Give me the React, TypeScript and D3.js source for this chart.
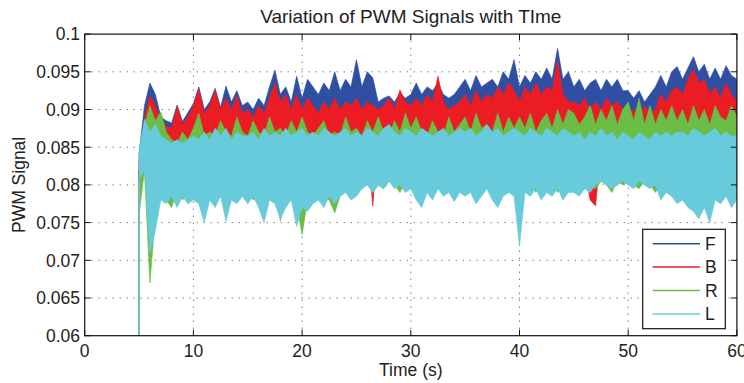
import React from "react";
import * as d3 from "d3";

// ---------- data (values in thousandths: 90 => 0.090) ----------
const UNIT = 1e-3;
const T_START = 5;
const T_STEP = 0.5;
const START_VALUE = 60;

const seriesNames = ["F", "B", "R", "L"];
const seriesColors = ["#2F4FA2", "#EC1C24", "#6CBD45", "#67CBDB"];

const xTicks = [0, 10, 20, 30, 40, 50, 60];
const yTicks = [0.06, 0.065, 0.07, 0.075, 0.08, 0.085, 0.09, 0.095, 0.1];
const xTickLabels = ["0", "10", "20", "30", "40", "50", "60"];
const yTickLabels = ["0.06", "0.065", "0.07", "0.075", "0.08", "0.085", "0.09", "0.095", "0.1"];

const fHi = [
  84, 90.5, 93.5, 92, 89, 88.5, 88.2, 90.6, 88.4, 89.6,
  90.8, 93, 90, 91, 92.8, 90.3, 93.1, 91, 92.5, 90.5,
  91, 90, 91.5, 90.5, 93, 95.2, 92, 93, 91, 94.4,
  91.5, 94, 93, 92, 93.5, 92.5, 95, 92.5, 94, 93,
  96.6, 93, 95, 94.2, 91, 91.5, 91.8, 91, 92.2, 91.5,
  92, 93.5, 92, 93, 92.5, 93.5, 92, 91.5, 92, 93,
  94, 92.5, 94.5, 93, 93.5, 94, 93, 95, 94, 96.6,
  93, 94.5, 93.5, 95, 94, 95.5, 94, 98.1, 94, 95,
  93, 94, 92.5, 93.5, 94, 92.5, 94, 93, 94, 92.5,
  92.5, 91.5, 92.5, 91, 92, 93, 94.5, 93, 95, 95.7,
  94, 95.5, 97, 95, 96, 94, 95.5, 94, 95.8, 94.5,
  94,
];
const fLo = [
  82, 84, 88, 86, 85, 85, 85, 84.5, 83.4, 84.5,
  85, 86, 86, 85.5, 86, 86.5, 86, 86, 86.5, 86,
  87, 86.5, 87.5, 86, 87, 88, 86.5, 87, 87.5, 86,
  86.5, 87, 88, 86.5, 87.5, 87, 86, 87.5, 88, 86.5,
  87, 88, 86.5, 87, 86, 87.5, 86.5, 87, 86, 87.5,
  87, 86, 87.5, 86.5, 88, 87, 86.5, 87.5, 86, 87,
  87.5, 88, 86.5, 87.5, 88.5, 87, 88, 87.5, 86.5, 88,
  87, 88.5, 87.5, 88, 86.5, 88, 87.5, 88.5, 87, 88,
  87.5, 86.5, 88, 87, 88.5, 87, 88, 86.5, 87.5, 88,
  87, 86.5, 87.5, 86, 87, 88, 87, 88.5, 87.5, 88,
  88.5, 87.5, 88, 87, 88.5, 87.5, 88, 87, 88.5, 87.5,
  88,
];
const bHi = [
  83, 89, 91.8, 90.5, 88.5, 87.8, 87.5, 90.4, 88, 89,
  90.5, 92.7, 89.5, 90.5, 92.5, 90, 91.5, 90, 91.8, 89.5,
  90, 89, 90.5, 89.5, 91.5, 93.5, 91, 92, 90, 92,
  90, 91.5, 90.5, 89.5, 91, 90, 91.5, 90, 91, 90.5,
  91.5, 90, 91, 90.5, 90, 90.5, 91.5, 90, 92.6, 91,
  90.5, 91.5, 90.5, 92, 91, 94.4, 91, 90, 90.5, 91,
  92, 90.5, 92.5, 91, 92, 91.5, 93, 92, 93.5, 92.5,
  91, 93, 92, 93.5, 92, 93, 92.5, 96.4, 92, 91,
  91, 90.5, 91.5, 90, 91, 90, 91.5, 90.5, 91, 90,
  89.5, 90, 89, 90.5, 89.5, 90, 92, 91, 92.5, 93,
  92, 94, 95.3, 93.5, 94, 92, 93, 91.5, 93.5, 92,
  91,
];
const bLo = [
  80, 85, 87, 85.5, 85, 85, 84.5, 84, 83.8, 84.5,
  85, 84.5, 85.5, 85, 85.5, 85, 86, 85, 85.5, 86,
  85.5, 86, 85, 86, 85.5, 86.5, 86, 85, 86, 85.5,
  85, 86, 85.5, 86, 86.5, 85.5, 86, 85, 86, 86.5,
  86, 85.5, 86, 77.2, 86, 85.5, 86, 85, 86, 85.5,
  85.5, 86, 85.5, 86, 85, 86, 85.5, 86, 85.5, 86,
  86, 85.5, 86.5, 86, 85.5, 86, 86.5, 85.5, 86, 86.5,
  86, 85.5, 86, 86.5, 85.5, 86, 86.5, 86, 85.5, 86,
  85.5, 79, 82, 78, 77.2, 85, 86, 85.5, 86, 85.5,
  86, 85.5, 86, 85.5, 79.6, 86, 85.5, 86, 85.5, 86,
  86.5, 85, 86, 85.5, 86, 85.5, 86, 85.5, 86, 85.5,
  86,
];
const rHi = [
  80, 88, 90.5, 88.5, 89.7, 87, 86, 85.5, 87, 86,
  87.5, 89.5, 86.5, 87, 86.5, 88.5, 87, 86.5, 89, 87,
  86.5, 88.5, 87, 86.5, 89, 87, 87.5, 86.5, 88.5, 87,
  89, 87, 86.5, 87.5, 88.5, 86.5, 87, 86.5, 89, 87,
  87.5, 86.5, 88.5, 87, 89, 87, 86.5, 88.5, 87, 89.5,
  87.5, 89, 87, 86.5, 88.5, 87, 86.5, 89, 87, 88,
  89, 87, 89.5, 87.5, 88, 87, 89.5, 87, 89, 87.5,
  89, 87.5, 89.5, 87, 88.5, 89.5, 87.5, 90, 88, 90,
  89.5, 88, 89, 90.5, 88, 90, 88.5, 90.5, 88, 90,
  91, 88.5, 91.5, 88, 90.5, 88, 90, 88.5, 90.5, 88.5,
  90, 88, 90.5, 88.5, 90, 88, 90.5, 89, 88.5, 90.5,
  89,
];
const rLo = [
  76, 82, 67, 76, 79, 78, 77, 79.5, 78, 79,
  80, 79, 78.5, 79.5, 77.5, 79, 78, 80, 78.5, 79,
  79.5, 78, 79, 80, 78.5, 79.5, 75.2, 78.5, 79, 77.5,
  73.4, 78, 77.5, 79, 78.5, 78, 76.3, 78.5, 79.5, 80,
  80, 79.5, 80.5, 79, 80, 79.5, 80.5, 80, 79, 80.5,
  80, 79.5, 80.5, 79, 80, 80.5, 79.5, 80, 79, 80.5,
  79, 80, 78.5, 80, 79.5, 80.5, 79, 80, 79.5, 80,
  80, 79.5, 80.5, 79, 80, 79.5, 80.5, 79, 80, 79.5,
  80, 79.5, 80.5, 80, 79.5, 80.5, 80, 79, 80.5, 80,
  80.5, 80, 79.5, 80.5, 80, 79, 80, 79.5, 80, 78.5,
  78, 77.5, 79, 76, 78.5, 79.5, 80, 79, 80.5, 79.5,
  80,
];
const lHi = [
  84.5, 88.7, 87, 88, 86.5, 86, 85.5, 86, 85.5, 86,
  86.5, 86, 87, 86, 87.5, 86.5, 87.5, 86, 87, 86.5,
  86.5, 87, 86, 87.5, 86.5, 87, 86.5, 87.5, 86.5, 87,
  87.5, 86.5, 87, 86.5, 87.5, 87, 86.5, 87, 87.5, 86.5,
  87, 86.5, 87.5, 87, 86.5, 87.5, 88, 87, 86.5, 87.5,
  87, 86.5, 87.5, 87, 86.5, 87, 87.5, 86.5, 87, 87.5,
  87, 87.5, 86.5, 87, 88, 87, 87.5, 86.5, 87, 87.5,
  87, 86.5, 87.5, 87, 86.5, 87.5, 87, 86.5, 87.5, 87,
  86.5, 87, 86, 87, 86.5, 87.5, 86.5, 87, 86, 87,
  86.5, 86, 87, 86.5, 86, 87, 86.5, 87, 86.5, 87,
  87, 86.5, 87.5, 87, 86.5, 87, 87.5, 86.5, 87, 86.5,
  86.5,
];
const lLo = [
  80.7, 82, 71, 74, 78, 77.5, 78.5, 77, 78.5, 77.5,
  78, 77.5, 75, 78, 77, 78.5, 75.2, 78, 77.5, 78.5,
  77.5, 78.5, 77, 75, 78, 77.5, 75.5, 77, 78, 74.5,
  77, 76.5, 77.5, 78, 77, 78.5, 77.5, 78.5, 79, 78,
  78.5, 79.5, 80, 79, 80, 79.5, 80.5, 79.5, 80, 79,
  79.5, 78, 77, 79, 78, 79.5, 78.5, 79, 77.8, 79,
  78.5, 79, 77.5, 78.5, 79.5, 78, 77, 78.5, 79, 78.5,
  71.9, 79, 78.5, 79.5, 78, 79, 78.5, 79.5, 78, 79,
  79, 78.5, 79.5, 79, 80, 80.5, 80, 79.5, 80, 80.5,
  80, 79.5, 80.5, 80, 79.5, 80, 78, 79, 78.5, 77.5,
  78, 77, 76.5, 75.5, 77, 75, 78, 77.5, 78.5, 77,
  78,
];

const seriesHi = [fHi, bHi, rHi, lHi];
const seriesLo = [fLo, bLo, rLo, lLo];

// ---------- layout ----------
const W = 744;
const H = 383;
const X0 = 84.7;
const X1 = 736.9;
const Y0 = 335.7;
const Y1 = 34.1;
const FONT = "'Liberation Sans', Arial, Helvetica, sans-serif";

export default function App() {
  const x = d3.scaleLinear().domain([0, 60]).range([X0, X1]);
  const y = d3.scaleLinear().domain([0.06, 0.1]).range([Y0, Y1]);
  const tAt = (i: number) => T_START + i * T_STEP;
  const line = d3
    .line<[number, number]>()
    .x((d) => x(d[0]))
    .y((d) => y(d[1] * UNIT));

  const legendX = 642.7;
  const legendY = 229.3;
  const legendW = 82.6;
  const legendH = 99.4;
  const legendStep = 23.4;
  const legendFirst = 243.7;

  return (
    <svg
      width={W}
      height={H}
      style={{ position: "absolute", left: 0, top: 0, background: "#fff" }}
      fontFamily={FONT}
    >
      <defs>
        <clipPath id="plotclip">
          <rect x={X0} y={Y1} width={X1 - X0} height={Y0 - Y1} />
        </clipPath>
      </defs>
      <rect x={0} y={0} width={W} height={H} fill="#fff" />

      {/* grid */}
      <g stroke="#444" strokeWidth={1} strokeDasharray="1 6" fill="none">
        {xTicks.slice(1, -1).map((t) => (
          <line key={"gx" + t} x1={x(t)} x2={x(t)} y1={Y0} y2={Y1} />
        ))}
        {yTicks.slice(1, -1).map((t) => (
          <line key={"gy" + t} x1={X0} x2={X1} y1={y(t)} y2={y(t)} />
        ))}
      </g>

      {/* series: dense signal shown as the band between its lower and upper readings */}
      <g clipPath="url(#plotclip)">
        {seriesNames.map((name, k) => {
          const hi = seriesHi[k];
          const lo = seriesLo[k];
          const area = d3
            .area<number>()
            .x((_, i) => x(tAt(i)))
            .y0((_, i) => y(lo[i] * UNIT))
            .y1((d) => y(d * UNIT));
          return (
            <g key={name}>
              <path
                d={area(hi) || ""}
                fill={seriesColors[k]}
                stroke={seriesColors[k]}
                strokeWidth={0.7}
                strokeLinejoin="miter"
              />
              <path
                d={line([[T_START, START_VALUE], [T_START, lo[0]]]) || ""}
                stroke={seriesColors[k]}
                strokeWidth={1.5}
                fill="none"
              />
            </g>
          );
        })}
      </g>

      {/* box & ticks */}
      <rect x={X0} y={Y1} width={X1 - X0} height={Y0 - Y1} fill="none" stroke="#111" strokeWidth={1.2} />
      <g stroke="#111" strokeWidth={1}>
        {xTicks.map((t) => (
          <g key={"tx" + t}>
            <line x1={x(t)} x2={x(t)} y1={Y0} y2={Y0 - 6} />
            <line x1={x(t)} x2={x(t)} y1={Y1} y2={Y1 + 6} />
          </g>
        ))}
        {yTicks.map((t) => (
          <g key={"ty" + t}>
            <line x1={X0} x2={X0 + 6} y1={y(t)} y2={y(t)} />
            <line x1={X1} x2={X1 - 6} y1={y(t)} y2={y(t)} />
          </g>
        ))}
      </g>

      {/* tick labels */}
      <g fill="#222" fontSize={17.5}>
        {xTicks.map((t, i) => (
          <text key={"lx" + t} x={x(t)} y={356.7} textAnchor="middle">
            {xTickLabels[i]}
          </text>
        ))}
        {yTicks.map((t, i) => (
          <text key={"ly" + t} x={80} y={y(t)} dy="0.36em" textAnchor="end">
            {yTickLabels[i]}
          </text>
        ))}
      </g>

      {/* titles */}
      <text x={(X0 + X1) / 2} y={23.3} textAnchor="middle" fontSize={19} fill="#222">
        Variation of PWM Signals with TIme
      </text>
      <text x={(X0 + X1) / 2} y={376} textAnchor="middle" fontSize={17.5} fill="#222">
        Time (s)
      </text>
      <text
        transform={`translate(25, ${(Y0 + Y1) / 2}) rotate(-90)`}
        textAnchor="middle"
        fontSize={17.5}
        fill="#222"
      >
        PWM Signal
      </text>

      {/* legend */}
      <rect x={legendX} y={legendY} width={legendW} height={legendH} fill="#fff" stroke="#111" strokeWidth={1.2} />
      {seriesNames.map((name, k) => {
        const ly = legendFirst + k * legendStep;
        return (
          <g key={"leg" + name}>
            <line x1={652.7} x2={700} y1={ly} y2={ly} stroke={seriesColors[k]} strokeWidth={1.5} />
            <text x={705} y={ly} dy="0.36em" fontSize={17.5} fill="#222">
              {name}
            </text>
          </g>
        );
      })}
    </svg>
  );
}
